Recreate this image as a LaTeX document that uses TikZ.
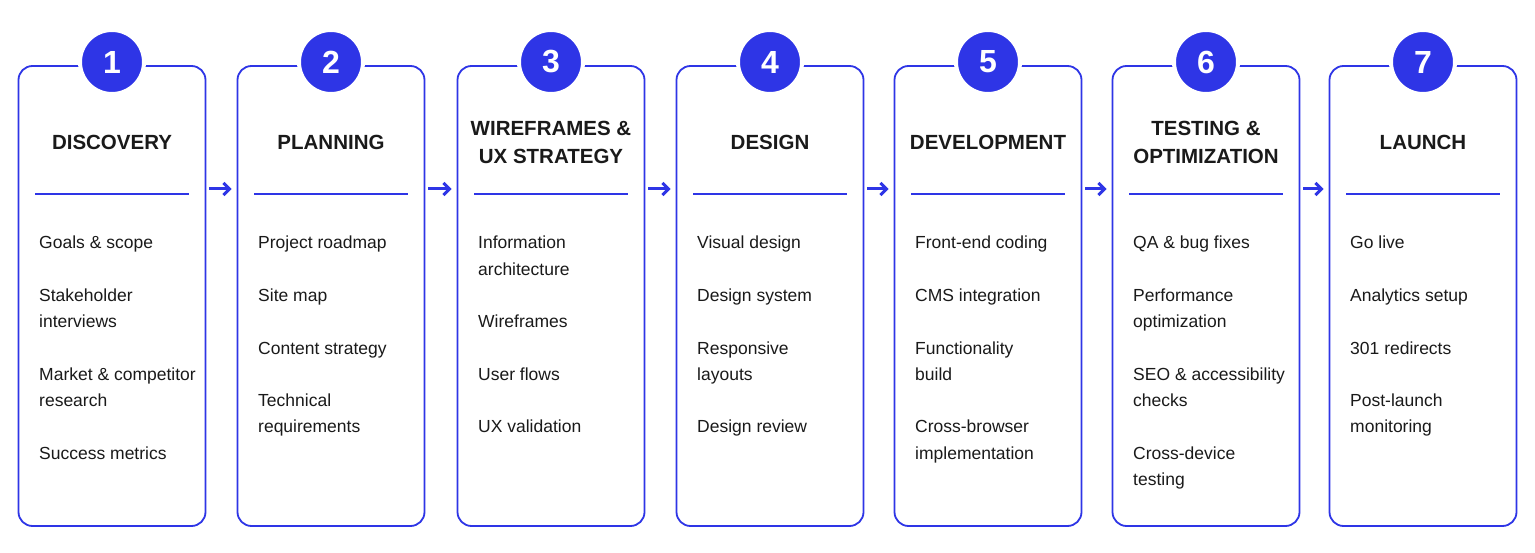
\documentclass[tikz,border=0pt]{standalone}
\usepackage{fontspec}
\setmainfont{Liberation Sans}
\usetikzlibrary{arrows.meta}
\definecolor{bl}{HTML}{2E35E6}
\definecolor{tx}{HTML}{1A1A1A}
\begin{document}
\begin{tikzpicture}[x=1pt,y=-1pt,
  card/.style={draw=bl,line width=1.8pt,rounded corners=14pt,minimum width=187pt,minimum height=460pt,fill=white},
  num/.style={circle,fill=bl,draw=white,line width=4pt,minimum size=64pt,text=white,font=\fontsize{32}{32}\selectfont\bfseries},
  ttl/.style={align=center,text=tx,font=\fontsize{20.5}{28}\selectfont\bfseries},
  itm/.style={anchor=north west,align=left,text=tx,font=\fontsize{17.5}{26.3}\selectfont,inner sep=0pt},
  arr/.style={draw=bl,line width=3pt,-{Straight Barb[length=6pt,width=12pt]},shorten <=3pt,shorten >=5pt}]
\useasboundingbox[fill=white] (0,0) rectangle (1535,553);
\foreach \i/\x/\t/\items in {
 1/112/DISCOVERY/{Goals \& scope\\[26.3pt]Stakeholder\\interviews\\[26.3pt]Market \& competitor\\research\\[26.3pt]Success metrics},
 2/331/PLANNING/{Project roadmap\\[26.3pt]Site map\\[26.3pt]Content strategy\\[26.3pt]Technical\\requirements},
 3/551/{WIREFRAMES \&\\UX STRATEGY}/{Information\\architecture\\[26.3pt]Wireframes\\[26.3pt]User flows\\[26.3pt]UX validation},
 4/770/DESIGN/{Visual design\\[26.3pt]Design system\\[26.3pt]Responsive\\layouts\\[26.3pt]Design review},
 5/988/DEVELOPMENT/{Front-end coding\\[26.3pt]CMS integration\\[26.3pt]Functionality\\build\\[26.3pt]Cross-browser\\implementation},
 6/1206/{TESTING \&\\OPTIMIZATION}/{QA \& bug fixes\\[26.3pt]Performance\\optimization\\[26.3pt]SEO \& accessibility\\checks\\[26.3pt]Cross-device\\testing},
 7/1423/LAUNCH/{Go live\\[26.3pt]Analytics setup\\[26.3pt]301 redirects\\[26.3pt]Post-launch\\monitoring}}{
  \node[card] (c\i) at (\x,296) {};
  \node[num] (n\i) at (\x,62) {\i};
  \node[ttl] (t\i) at (\x,142) {\t};
  \draw[bl,line width=1.5pt] (\x-77,194) -- (\x+77,194);
  \node[itm] (i\i) at (\x-73,236) {\items};
}
\foreach \a/\b in {1/2,2/3,3/4,4/5,5/6,6/7}{
  \draw[arr] ([yshift=107pt]c\a.east) -- ([yshift=107pt]c\b.west);
}
\end{tikzpicture}
\end{document}
